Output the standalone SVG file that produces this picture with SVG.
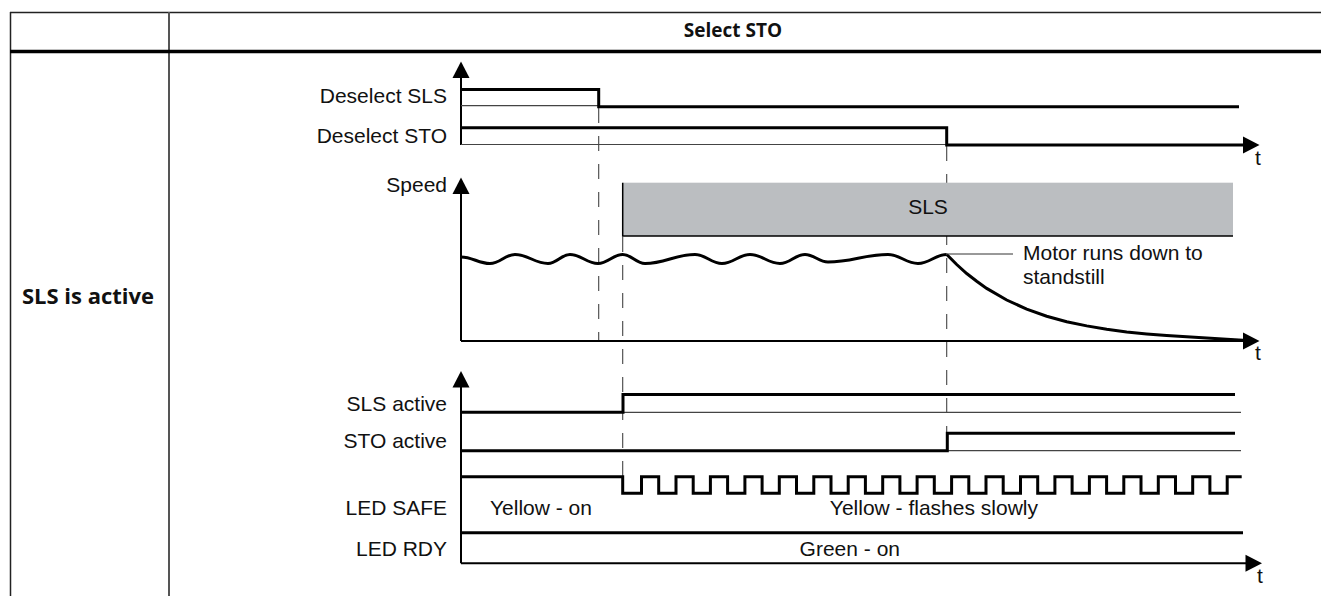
<svg xmlns="http://www.w3.org/2000/svg" width="1321" height="596" viewBox="0 0 1321 596">
<style>
.bold{font-family:"Open Sans","Noto Sans","DejaVu Sans",sans-serif;font-weight:bold;fill:#111}
.lbl{font-family:"Liberation Sans",Arial,sans-serif;font-size:21px;fill:#111}
.sig{fill:none;stroke:#000;stroke-width:3;stroke-linejoin:miter;stroke-linecap:butt}
.thin{fill:none;stroke:#444;stroke-width:1.2}
.axis{fill:none;stroke:#000;stroke-width:2}
.dash{fill:none;stroke:#444;stroke-width:1.1;stroke-dasharray:15 13}
.ah{fill:#000}
</style>
<rect width="1321" height="596" fill="#fff"/>
<g id="table">
  <line x1="10" y1="12.5" x2="1321" y2="12.5" stroke="#222" stroke-width="1.5"/>
  <line x1="10.5" y1="12" x2="10.5" y2="596" stroke="#222" stroke-width="1.5"/>
  <line x1="169" y1="12" x2="169" y2="596" stroke="#555" stroke-width="2"/>
  <line x1="10" y1="51.5" x2="1321" y2="51.5" stroke="#000" stroke-width="3.5"/>
  <text class="bold" x="733" y="37" font-size="19" text-anchor="middle">Select STO</text>
  <text class="bold" x="88" y="304" font-size="22" text-anchor="middle">SLS is active</text>
</g>
<g id="guides">
  <line class="dash" x1="598.7" y1="108" x2="598.7" y2="341"/>
  <line class="dash" x1="622.7" y1="237" x2="622.7" y2="476"/>
  <line class="dash" x1="946.7" y1="146" x2="946.7" y2="433"/>
</g>
<g id="top-group">
  <line class="axis" x1="461" y1="74" x2="461" y2="145"/>
  <polygon class="ah" points="461,61.5 452.5,78 469.5,78"/>
  <line class="thin" x1="461" y1="105.7" x2="598" y2="105.7"/>
  <line class="thin" x1="461" y1="144.5" x2="946" y2="144.5"/>
  <path class="sig" d="M461,89.5 H598.7 V106.7 H1239"/>
  <path class="sig" d="M461,127.7 H946.7 V145 H1245"/>
  <polygon class="ah" points="1259.5,145 1243,136.5 1243,153.5"/>
  <text class="lbl" x="447" y="103" text-anchor="end">Deselect SLS</text>
  <text class="lbl" x="447" y="143" text-anchor="end">Deselect STO</text>
  <text class="lbl" x="1255" y="165">t</text>
</g>
<g id="speed-group">
  <rect x="622.7" y="182.7" width="610.3" height="53.3" fill="#bbbec1"/>
  <path d="M622.7,182.7 V236 H1233" fill="none" stroke="#000" stroke-width="1.5"/>
  <text class="lbl" x="928" y="214" text-anchor="middle">SLS</text>
  <line class="axis" x1="461" y1="190" x2="461" y2="341"/>
  <polygon class="ah" points="461,177.5 452.5,194 469.5,194"/>
  <line class="axis" x1="461" y1="341" x2="1245" y2="341"/>
  <polygon class="ah" points="1259.5,341 1243,332.5 1243,349.5"/>
  <path class="sig" stroke-linejoin="round" d="M461,257 C472.6,257 478.4,263.5 490,263.5 C500,263.5 505,254.5 515,254.5 C528.2,254.5 534.8,263.5 548,263.5 C556.8,263.5 561.2,254.5 570,254.5 C581.2,254.5 586.8,263.5 598,263.5 C607.9,263.5 612.8,254.5 622.7,254.5 C631.6,254.5 636.1,263.5 645,263.5 C665,263.5 675,254.5 695,254.5 C705.8,254.5 711.2,263.5 722,263.5 C733.2,263.5 738.8,254.5 750,254.5 C762,254.5 768,263.5 780,263.5 C790,263.5 795,254.5 805,254.5 C814.2,254.5 818.8,262 828,262 C852,262 864,254.5 888,254.5 C900,254.5 906,263.5 918,263.5 C929.5,263.5 935.2,254.5 946.7,254.5"/>
  <path class="sig" stroke-linejoin="round" d="M946.7,254.5 L956.7,264.5 L966.7,273.5 L976.7,281.3 L986.7,288.4 L1006.7,300 L1026.7,309.1 L1046.7,316.2 L1066.7,321.7 L1086.7,325.9 L1106.7,329.3 L1126.7,331.9 L1146.7,333.9 L1166.7,335.5 L1186.7,336.8 L1206.7,338 L1226.7,339.3 L1247,340.5"/>
  <line x1="947" y1="254" x2="1013" y2="254" stroke="#333" stroke-width="1"/>
  <text class="lbl" x="447" y="192" text-anchor="end">Speed</text>
  <text class="lbl" x="1023" y="260">Motor runs down to</text>
  <text class="lbl" x="1023" y="284">standstill</text>
  <text class="lbl" x="1255" y="360">t</text>
</g>
<g id="bottom-group">
  <line class="axis" x1="461" y1="384" x2="461" y2="563.3"/>
  <polygon class="ah" points="461,371 452.5,387.5 469.5,387.5"/>
  <line class="thin" x1="623" y1="412.3" x2="1241" y2="412.3"/>
  <line class="thin" x1="947" y1="450.7" x2="1241" y2="450.7"/>
  <path class="sig" d="M461,412.3 H623 V394.5 H1235"/>
  <path class="sig" d="M461,450.7 H947.3 V433.3 H1235"/>
  <path class="sig" d="M461,476.7 H622.7 V493.3 H641.5 V476.7 H658.7 V493.3 H676 V476.7 H693.2 V493.3 H710.4 V476.7 H727.6 V493.3 H744.9 V476.7 H762.1 V493.3 H779.3 V476.7 H796.5 V493.3 H813.8 V476.7 H831 V493.3 H848.2 V476.7 H865.4 V493.3 H882.7 V476.7 H899.9 V493.3 H917.1 V476.7 H934.3 V493.3 H951.6 V476.7 H968.8 V493.3 H986 V476.7 H1003.2 V493.3 H1020.5 V476.7 H1037.7 V493.3 H1054.9 V476.7 H1072.1 V493.3 H1089.4 V476.7 H1106.6 V493.3 H1123.8 V476.7 H1141 V493.3 H1158.3 V476.7 H1175.5 V493.3 H1192.7 V476.7 H1209.9 V493.3 H1227.2 V476.7 H1241.7"/>
  <path class="sig" d="M461,532.7 H1243"/>
  <line class="axis" x1="461" y1="563.3" x2="1247" y2="563.3"/>
  <polygon class="ah" points="1262,563.3 1245.5,554.8 1245.5,571.8"/>
  <text class="lbl" x="447" y="411" text-anchor="end">SLS active</text>
  <text class="lbl" x="447" y="448" text-anchor="end">STO active</text>
  <text class="lbl" x="447" y="515" text-anchor="end">LED SAFE</text>
  <text class="lbl" x="447" y="556" text-anchor="end">LED RDY</text>
  <text class="lbl" x="490" y="515">Yellow - on</text>
  <text class="lbl" x="1038" y="515" text-anchor="end">Yellow - flashes slowly</text>
  <text class="lbl" x="900" y="556" text-anchor="end">Green - on</text>
  <text class="lbl" x="1257" y="583">t</text>
</g>
</svg>
